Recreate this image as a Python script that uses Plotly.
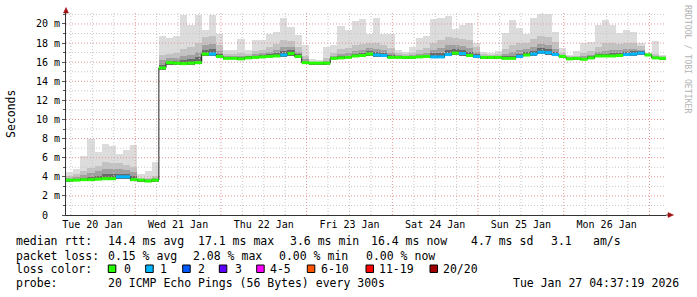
import plotly.graph_objects as go
import pandas as pd

# ---------------- data ----------------
start_time = "2026-01-20 04:37:19"
end_time = "2026-01-27 04:37:19"
bin_hours = 2

# median RTT per 2-hour bin (ms)
median_ms = [
    3.65, 3.65, 3.7, 3.7, 3.75, 3.8, 3.8, 4.0, 4.0, 3.7, 3.65, 3.55, 3.65,
    15.4, 15.95, 15.9, 15.85, 15.9, 15.95, 16.85, 16.85, 16.6, 16.4, 16.4, 16.35,
    16.45, 16.5, 16.55, 16.6, 16.65, 16.75, 16.9, 16.6, 15.95, 15.9, 15.9, 15.9,
    16.4, 16.45, 16.5, 16.65, 16.7, 16.85, 16.75, 16.7, 16.5, 16.5, 16.5, 16.5,
    16.55, 16.6, 16.55, 16.55, 16.8, 16.95, 16.9, 16.7, 16.6, 16.5, 16.5, 16.5,
    16.4, 16.4, 16.6, 16.75, 16.85, 17.05, 17.0, 16.8, 16.6, 16.35, 16.4, 16.3,
    16.45, 16.65, 16.65, 16.65, 16.7, 16.8, 16.85, 16.95, 16.75, 16.45, 16.4,
]
# lost pings (of 20) per bin
loss_count = [
    0, 0, 0, 0, 0, 0, 0, 1, 1, 0, 0, 0, 0,
    0, 0, 0, 0, 0, 0, 0, 1, 0, 0, 0, 0,
    0, 0, 0, 0, 0, 1, 0, 0, 0, 0, 0, 0,
    0, 0, 0, 0, 0, 0, 1, 1, 0, 0, 0, 0,
    0, 0, 1, 1, 1, 0, 1, 0, 1, 0, 0, 0,
    0, 0, 1, 0, 1, 1, 1, 1, 0, 0, 0, 0,
    0, 0, 0, 0, 0, 1, 1, 1, 0, 0, 0,
]
# smoke: spread of the 20 pings per bin (ms)
smoke_min = [
    3.55, 3.55, 3.6, 3.6, 3.65, 3.7, 3.7, 3.8, 3.8, 3.6, 3.55, 3.5, 3.55,
    15.2, 15.75, 15.75, 15.7, 15.75, 15.8, 16.6, 16.6, 16.45, 16.3, 16.3, 16.25,
    16.35, 16.4, 16.45, 16.5, 16.5, 16.55, 16.7, 16.45, 15.8, 15.8, 15.8, 15.8,
    16.3, 16.35, 16.4, 16.5, 16.55, 16.65, 16.55, 16.5, 16.4, 16.4, 16.4, 16.4,
    16.45, 16.5, 16.4, 16.4, 16.6, 16.8, 16.7, 16.55, 16.45, 16.4, 16.4, 16.4,
    16.3, 16.3, 16.45, 16.6, 16.65, 16.85, 16.8, 16.6, 16.5, 16.25, 16.3, 16.2,
    16.35, 16.55, 16.55, 16.55, 16.6, 16.65, 16.7, 16.75, 16.6, 16.35, 16.3,
]
smoke_p60 = [
    3.75, 3.8, 3.9, 4.0, 4.1, 4.25, 4.25, 4.3, 4.3, 4.05, 3.72, 3.65, 3.75,
    15.7, 16.15, 16.1, 16.2, 16.3, 16.5, 17.3, 17.4, 16.9, 16.55, 16.55, 16.5,
    16.6, 16.7, 16.75, 16.85, 16.95, 17.2, 17.25, 16.85, 16.1, 15.92, 15.92, 15.95,
    16.55, 16.65, 16.7, 16.9, 16.95, 17.15, 17.05, 17.0, 16.75, 16.65, 16.6, 16.6,
    16.7, 16.8, 16.95, 17.0, 17.3, 17.4, 17.3, 17.1, 16.85, 16.6, 16.6, 16.6,
    16.6, 16.7, 16.9, 17.05, 17.2, 17.45, 17.4, 17.1, 16.7, 16.45, 16.5, 16.45,
    16.6, 16.85, 16.9, 16.95, 17.0, 17.1, 17.15, 17.15, 16.85, 16.55, 16.45,
]
smoke_p75 = [
    3.9, 4.0, 4.2, 4.4, 4.6, 4.8, 4.8, 4.8, 4.7, 4.5, 3.8, 3.75, 3.85,
    16.2, 16.4, 16.4, 16.6, 16.8, 17.1, 17.8, 17.9, 17.2, 16.7, 16.7, 16.7,
    16.7, 16.9, 17.0, 17.1, 17.3, 17.6, 17.6, 17.1, 16.3, 15.95, 15.95, 16.1,
    16.7, 16.9, 17.0, 17.2, 17.3, 17.5, 17.4, 17.3, 17.0, 16.8, 16.7, 16.75,
    16.9, 17.0, 17.3, 17.5, 17.8, 17.8, 17.7, 17.5, 17.1, 16.7, 16.7, 16.7,
    16.9, 17.1, 17.3, 17.4, 17.6, 17.9, 17.8, 17.4, 16.8, 16.5, 16.55, 16.6,
    16.8, 17.1, 17.2, 17.3, 17.3, 17.4, 17.4, 17.3, 16.9, 16.6, 16.5,
]
smoke_p90 = [
    4.1, 4.3, 4.6, 4.9, 5.1, 5.5, 5.4, 5.4, 5.2, 5.0, 3.9, 3.9, 4.1,
    16.8, 16.9, 17.0, 17.4, 17.6, 18.0, 18.6, 18.7, 17.8, 16.9, 16.9, 17.0,
    16.9, 17.2, 17.3, 17.6, 17.9, 18.3, 18.2, 17.6, 16.6, 16.0, 16.0, 16.4,
    17.0, 17.4, 17.5, 17.8, 17.9, 18.0, 18.0, 17.8, 17.5, 17.0, 16.9, 17.0,
    17.3, 17.5, 18.0, 18.3, 18.6, 18.5, 18.4, 18.3, 17.6, 16.9, 16.8, 16.9,
    17.4, 17.8, 18.0, 18.0, 18.4, 18.7, 18.6, 18.1, 17.0, 16.6, 16.7, 17.0,
    17.2, 17.6, 18.0, 18.0, 17.9, 18.0, 18.0, 17.7, 17.0, 16.9, 16.6,
]
smoke_max = [
    4.5, 4.8, 6.2, 8.0, 6.6, 7.4, 7.2, 6.4, 6.8, 7.3, 4.3, 4.6, 5.5,
    18.7, 18.5, 18.75, 20.9, 19.9, 20.9, 19.4, 20.9, 18.9, 17.3, 17.3, 18.4,
    17.3, 18.3, 18.3, 19.0, 19.2, 20.6, 19.7, 18.85, 17.8, 16.3, 16.2, 17.6,
    17.8, 19.75, 19.4, 20.3, 20.5, 19.0, 20.6, 19.0, 18.9, 17.3, 17.1, 17.6,
    18.5, 18.7, 20.5, 20.6, 20.8, 19.5, 19.9, 20.1, 18.0, 17.1, 17.0, 17.2,
    19.05, 20.4, 19.6, 18.9, 20.6, 21.0, 21.0, 19.2, 17.5, 16.8, 17.2, 18.0,
    18.1, 19.9, 20.45, 19.9, 19.05, 19.4, 19.2, 18.0, 17.0, 18.25, 16.75,
]

y_tick_values = [0, 2, 4, 6, 8, 10, 12, 14, 16, 18, 20]
y_tick_labels = ["0\u00a0\u00a0", "2 m", "4 m", "6 m", "8 m", "10 m", "12 m",
                 "14 m", "16 m", "18 m", "20 m"]

loss_labels = ["0", "1", "2", "3", "4-5", "6-10", "11-19", "20/20"]
loss_upper = [0, 1, 2, 3, 5, 10, 19, 20]
loss_colors = ["#26ff00", "#00b8ff", "#0059ff", "#5e00ff", "#ff00ff",
               "#ff5500", "#ff0000", "#a00000"]

rtt_line = ["median rtt:", "14.4 ms avg", "17.1 ms max", "3.6 ms min",
            "16.4 ms now", "4.7 ms sd", "3.1", "am/s"]
loss_line = ["packet loss:", "0.15 % avg", "2.08 % max", "0.00 % min", "0.00 % now"]
probe_line = ["probe:", "20 ICMP Echo Pings (56 Bytes) every 300s",
              "Tue Jan 27 04:37:19 2026"]

# ---------------- layout helpers (pixels -> paper) ----------------
W, H = 697, 297
L, R, T, B = 66, 666, 13, 215
def px(x):
    return (x - L) / (R - L)
def py(y):
    return (B - y) / (B - T)

MONO = "DejaVu Sans Mono"
rtt_x = [16, 107.7, 198.3, 289.5, 371, 471, 550.7, 592.7]
loss_x = [16, 107.7, 193.3, 279, 365.7]
probe_x = [16, 107.7, 513.3]
box_x = [108.3, 145.7, 182.7, 219.3, 256.7, 307.3, 366, 430]
lbl_x = [124, 160, 197.7, 235, 270, 320.7, 379.3, 443.3]

Y_TOP = 21.15
MAJ = "#e49595"
MIN = "#c8c8c8"
DASH = "1px,2px"

# ---------------- build figure ----------------
start = pd.Timestamp(start_time)
end = pd.Timestamp(end_time)
n = len(median_ms)
step = pd.Timedelta(hours=bin_hours)
bin_start = [start + step * i for i in range(n)]
bin_end = [s + step for s in bin_start]
bin_mid = [s + step / 2 for s in bin_start]
bar_w = bin_hours * 3600 * 1000

fig = go.Figure()

layers = [(smoke_max, "#dcdcdc"), (smoke_p90, "#c2c2c2"),
          (smoke_p75, "#a0a0a0"), (smoke_p60, "#6a6a6a")]
for top, col in layers:
    fig.add_trace(go.Bar(
        x=bin_mid, y=[t - b for t, b in zip(top, smoke_min)], base=smoke_min,
        width=bar_w, marker=dict(color=col, line=dict(width=0)),
        hoverinfo="skip", showlegend=False))

# grid drawn over the smoke (as rrdtool does), below the median line
gx_min, gy_min, gx_maj, gy_maj = [], [], [], []
t = pd.Timestamp("2026-01-20 00:00:00")
while t <= end:
    if t >= start:
        if t.hour == 0:
            gx_maj += [t, t, None]; gy_maj += [0, Y_TOP, None]
        else:
            gx_min += [t, t, None]; gy_min += [0, Y_TOP, None]
    t += pd.Timedelta(hours=6)
for v in range(1, 22):
    if v > Y_TOP:
        break
    if v % 2 == 0:
        gx_maj += [start, end, None]; gy_maj += [v, v, None]
    else:
        gx_min += [start, end, None]; gy_min += [v, v, None]
for gx, gy, col in [(gx_min, gy_min, MIN), (gx_maj, gy_maj, MAJ)]:
    fig.add_trace(go.Scatter(x=gx, y=gy, mode="lines",
                             line=dict(color=col, width=1, dash=DASH),
                             hoverinfo="skip", showlegend=False))

# thin dark median line (stepped)
fig.add_trace(go.Scatter(
    x=bin_start + [bin_end[-1]], y=median_ms + [median_ms[-1]],
    mode="lines", line=dict(color="#202020", width=1, shape="hv"),
    hoverinfo="skip", showlegend=False))

def loss_index(c):
    for i, up in enumerate(loss_upper):
        if c <= up:
            return i
    return len(loss_upper) - 1

for ci, col in enumerate(loss_colors):
    xs, ys = [], []
    for i in range(n):
        if loss_index(loss_count[i]) == ci:
            xs += [bin_start[i], bin_end[i], None]
            ys += [median_ms[i], median_ms[i], None]
    if xs:
        fig.add_trace(go.Scatter(x=xs, y=ys, mode="lines",
                                 line=dict(color=col, width=3),
                                 hoverinfo="skip", showlegend=False))

fig.update_layout(
    width=W, height=H,
    margin=dict(l=L, r=W - R, t=T, b=H - B),
    paper_bgcolor="white", plot_bgcolor="white",
    barmode="overlay", bargap=0,
    showlegend=False,
    font=dict(family=MONO, color="#000000"),
    xaxis=dict(
        type="date", range=[start, end],
        tick0="2026-01-20 00:00:00", dtick=86400000,
        tickformat="%a %d %b", ticklabelmode="period",
        tickfont=dict(family=MONO, size=10, color="#000000"),
        showgrid=False,
        showline=True, linecolor="#333333", linewidth=1,
        ticks="", zeroline=False, fixedrange=True,
    ),
    yaxis=dict(
        range=[0, Y_TOP],
        tickvals=y_tick_values, ticktext=y_tick_labels,
        tickfont=dict(family=MONO, size=10, color="#000000"),
        showgrid=False,
        minor=dict(dtick=1, ticks="outside", ticklen=2, tickcolor="#555555"),
        ticks="outside", ticklen=3, tickcolor="#555555",
        showline=True, linecolor="#333333", linewidth=1,
        zeroline=False, fixedrange=True,
    ),
)

ann = []
def text(x, y, s, size=11.5, color="#000000", angle=0, xa="left"):
    ann.append(dict(x=px(x), y=py(y), xref="paper", yref="paper", text=s,
                    showarrow=False, xanchor=xa, yanchor="middle",
                    textangle=angle, borderpad=0,
                    font=dict(family=MONO, size=size, color=color)))

for s, x in zip(rtt_line, rtt_x):
    text(x - 1, 241, s)
for s, x in zip(loss_line, loss_x):
    text(x - 1, 255.7, s)
for s, x in zip(probe_line, probe_x):
    text(x - 1, 283.3, s)
text(15, 269.3, "loss color:")
for s, x in zip(loss_labels, lbl_x):
    text(x - 1, 269.3, s)

text(11, 114, "Seconds", size=11.5, angle=-90, xa="center")
text(688, 59, "RRDTOOL / TOBI OETIKER", size=8.2, color="#b4b4b4", angle=90,
     xa="center")

shapes = []
for col, x in zip(loss_colors, box_x):
    shapes.append(dict(type="rect", xref="paper", yref="paper",
                       x0=px(x), x1=px(x + 7.5), y0=py(272.5), y1=py(265),
                       fillcolor=col, line=dict(color="#000000", width=1)))
# axis arrows
arrow_col = "#a01010"
shapes.append(dict(type="path", xref="paper", yref="paper",
                   path=f"M {px(63.5)} {py(13)} L {px(68.5)} {py(13)} L {px(66)} {py(7.5)} Z",
                   fillcolor=arrow_col, line=dict(color=arrow_col, width=0.5)))
shapes.append(dict(type="line", xref="paper", yref="paper",
                   x0=px(666), x1=px(668), y0=py(215), y1=py(215),
                   line=dict(color="#333333", width=1)))
shapes.append(dict(type="path", xref="paper", yref="paper",
                   path=f"M {px(668)} {py(212.5)} L {px(668)} {py(217.5)} L {px(673.5)} {py(215)} Z",
                   fillcolor=arrow_col, line=dict(color=arrow_col, width=0.5)))

fig.update_layout(annotations=ann, shapes=shapes)

fig.write_html("out.html")
